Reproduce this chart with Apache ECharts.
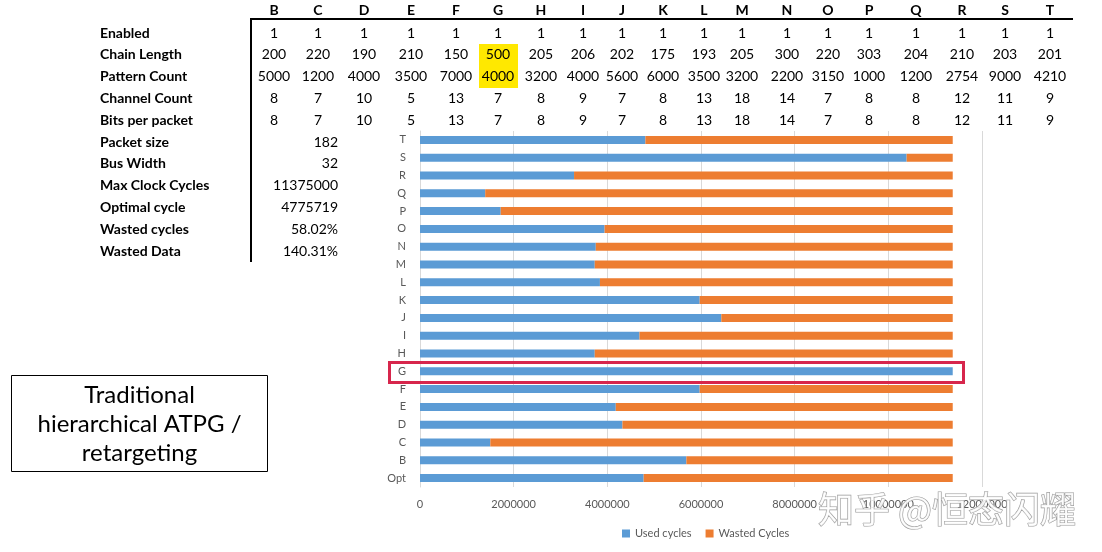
<!DOCTYPE html>
<html><head><meta charset="utf-8">
<script src="https://cdn.jsdelivr.net/npm/echarts@6/dist/echarts.min.js"></script>
<style>html,body{margin:0;padding:0;background:#fff}#c{width:1102px;height:552px}</style>
</head><body><div id="c"></div>
<script>
// ---- data ----
var categories = ['Opt','B','C','D','E','F','G','H','I','J','K','L','M','N','O','P','Q','R','S','T'];
var usedCycles = [4775719,5687500,1501500,4322500,4180313,5971875,11375000,3731000,4686500,6433700,5971875,3841906,3731000,3753750,3941438,1723313,1392300,3289309,10390813,4812819];
var wastedCycles = [6599281,5687500,9873500,7052500,7194687,5403125,0,7644000,6688500,4941300,5403125,7533094,7644000,7621250,7433562,9651687,9982700,8085691,984187,6562181];
var xTicks = [0,2000000,4000000,6000000,8000000,10000000,12000000];

var blockNames = ['B','C','D','E','F','G','H','I','J','K','L','M','N','O','P','Q','R','S','T'];
var enabled = [1,1,1,1,1,1,1,1,1,1,1,1,1,1,1,1,1,1,1];
var chainLength = [200,220,190,210,150,500,205,206,202,175,193,205,300,220,303,204,210,203,201];
var patternCount = [5000,1200,4000,3500,7000,4000,3200,4000,5600,6000,3500,3200,2200,3150,1000,1200,2754,9000,4210];
var channelCount = [8,7,10,5,13,7,8,9,7,8,13,18,14,7,8,8,12,11,9];
var bitsPerPacket = [8,7,10,5,13,7,8,9,7,8,13,18,14,7,8,8,12,11,9];
var rowLabels = ['Enabled','Chain Length','Pattern Count','Channel Count','Bits per packet'];
var summaryLabels = ['Packet size','Bus Width','Max Clock Cycles','Optimal cycle','Wasted cycles','Wasted Data'];
var summaryValues = ['182','32','11375000','4775719','58.02%','140.31%'];
var boxText = 'Traditional\nhierarchical ATPG /\nretargeting';
var watermark = '知乎 @恒态闪耀';

// ---- layout ----
var colX = [274,318,364,411,456,498,541,583,622,663,704,742,787,828,869,916,962,1005,1050];
var rowY0 = 33, rowStep = 21.8;
var F = 'Lato, "Noto Sans", sans-serif';

var g = [];
g.push({type:'rect', shape:{x:479,y:44,width:39,height:44}, style:{fill:'#FFE800'}, z:1});
blockNames.forEach(function(n,i){
  g.push({type:'text', x:colX[i], y:10, style:{text:n, font:'bold 14px '+F, fill:'#000', textAlign:'center', textVerticalAlign:'middle'}, z:5});
});
g.push({type:'line', shape:{x1:250,y1:19,x2:1073,y2:19}, style:{stroke:'#000', lineWidth:2}, z:5});
g.push({type:'line', shape:{x1:251,y1:18,x2:251,y2:262}, style:{stroke:'#000', lineWidth:2}, z:5});
var rows = [enabled, chainLength, patternCount, channelCount, bitsPerPacket];
rowLabels.concat(summaryLabels).forEach(function(l,i){
  g.push({type:'text', x:100, y:rowY0+i*rowStep, style:{text:l, font:'bold 14px '+F, fill:'#000', textAlign:'left', textVerticalAlign:'middle'}, z:5});
});
rows.forEach(function(arr,r){
  arr.forEach(function(v,i){
    g.push({type:'text', x:colX[i], y:rowY0+r*rowStep, style:{text:String(v), font:'14px '+F, fill:'#000', textAlign:'center', textVerticalAlign:'middle'}, z:5});
  });
});
summaryValues.forEach(function(v,i){
  g.push({type:'text', x:338, y:rowY0+(i+5)*rowStep, style:{text:v, font:'14px '+F, fill:'#000', textAlign:'right', textVerticalAlign:'middle'}, z:5});
});
g.push({type:'rect', shape:{x:11.5,y:375.5,width:256,height:96}, style:{fill:'#fff', stroke:'#000', lineWidth:1}, z:5});
g.push({type:'text', x:139.5, y:424, style:{text:boxText, font:'24px '+F, fill:'#000', textAlign:'center', textVerticalAlign:'middle', lineHeight:29}, z:6});
g.push({type:'rect', shape:{x:389.5,y:362.5,width:574,height:20}, style:{fill:'none', stroke:'#D7264C', lineWidth:3}, z:20});
g.push({type:'text', x:818, y:509, style:{text:watermark, font:'36px "Noto Sans CJK SC", sans-serif', fill:'rgba(255,255,255,0.85)', stroke:'#9a9a9a', lineWidth:1.2, textAlign:'left', textVerticalAlign:'middle'}, z:30});

var chart = echarts.init(document.getElementById('c'));
chart.setOption({
  animation:false,
  textStyle:{fontFamily:F},
  grid:{left:420, right:120, top:131, bottom:65, containLabel:false},
  legend:{data:['Used cycles','Wasted Cycles'], left:617, top:523, itemWidth:8, itemHeight:8, itemGap:14, icon:'rect',
    textStyle:{color:'#595959', fontSize:11, fontFamily:F}},
  xAxis:{type:'value', min:0, max:12000000, interval:2000000,
    axisLine:{show:false}, axisTick:{show:false},
    splitLine:{lineStyle:{color:'#D9D9D9', width:1}},
    axisLabel:{color:'#595959', fontSize:11, margin:12, formatter:function(v){return String(v);}}},
  yAxis:{type:'category', data:categories,
    axisLine:{show:true, lineStyle:{color:'#D9D9D9'}}, axisTick:{show:false},
    axisLabel:{color:'#595959', fontSize:11, margin:14}},
  series:[
    {name:'Used cycles', type:'bar', stack:'a', data:usedCycles, barWidth:8, itemStyle:{color:'#5B9BD5'}},
    {name:'Wasted Cycles', type:'bar', stack:'a', data:wastedCycles, barWidth:8, itemStyle:{color:'#ED7D31'}}
  ],
  graphic:g
});
</script></body></html>
